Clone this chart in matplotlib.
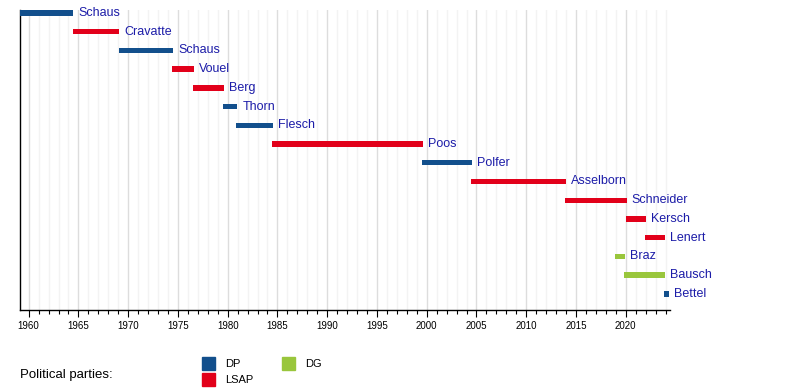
import matplotlib
matplotlib.use("Agg")
import matplotlib.pyplot as plt
from matplotlib.ticker import MultipleLocator
from matplotlib.patches import Rectangle

plt.rcParams['font.family'] = ['Liberation Sans', 'DejaVu Sans']

# office holders, top to bottom
names = ["Schaus", "Cravatte", "Schaus", "Vouel", "Berg", "Thorn", "Flesch", "Poos",
         "Polfer", "Asselborn", "Schneider", "Kersch", "Lenert", "Braz", "Bausch", "Bettel"]
parties = ["DP", "LSAP", "DP", "LSAP", "LSAP", "DP", "DP", "LSAP",
           "DP", "LSAP", "LSAP", "LSAP", "LSAP", "DG", "DG", "DP"]
starts = [1959.15, 1964.45, 1969.07, 1974.4, 1976.5, 1979.5, 1980.8, 1984.5,
          1999.55, 2004.5, 2013.9, 2020.0, 2021.9, 2018.9, 2019.8, 2023.8]
ends = [1964.45, 1969.07, 1974.5, 1976.6, 1979.6, 1980.96, 1984.6, 1999.65,
        2004.6, 2014.0, 2020.1, 2022.0, 2023.9, 2019.9, 2023.9, 2024.3]

party_names = ["DP", "LSAP", "DG"]
party_colors = {"DP": "#124f8c", "LSAP": "#e2001a", "DG": "#99c63c"}
text_color = "#1c1ca8"

fig = plt.figure(figsize=(8, 3.9), dpi=100)
ax = fig.add_axes([0.025, 0.205, 0.8125, 0.769])

rows = list(range(len(names)))
ax.barh(rows, [e - s for s, e in zip(starts, ends)], left=starts, height=0.29,
        color=[party_colors[p] for p in parties], zorder=3)

for r, name, e in zip(rows, names, ends):
    ax.annotate(name, (e, r), xytext=(3.6, 0), textcoords="offset points",
                va="center", ha="left", fontsize=9, color=text_color, zorder=4)

ax.set_xlim(1959.13, 2024.45)
ax.set_ylim(15.86, -0.144)

ax.xaxis.set_major_locator(MultipleLocator(5))
ax.xaxis.set_minor_locator(MultipleLocator(1))
ax.grid(which="major", axis="x", color="#dddddd", linewidth=1, zorder=0)
ax.grid(which="minor", axis="x", color="#f3f3f3", linewidth=1, zorder=0)
ax.set_yticks([])
ax.tick_params(axis="x", which="major", length=5, width=0.8, labelsize=7, pad=3)
ax.tick_params(axis="x", which="minor", length=3, width=0.8)
for s in ["top", "right"]:
    ax.spines[s].set_visible(False)
ax.spines["left"].set_linewidth(1)
ax.spines["bottom"].set_linewidth(1)

# legend
fig.text(20 / 800, 1 - 375 / 390, "Political parties:", fontsize=9.5, va="center", ha="left")
legend_pos = {"DP": (202, 357), "LSAP": (202, 373), "DG": (282, 357)}
for p in party_names:
    x, y = legend_pos[p]
    fig.patches.append(Rectangle((x / 800, 1 - (y + 13) / 390), 13 / 800, 13 / 390,
                                 transform=fig.transFigure, color=party_colors[p]))
    fig.text((x + 23) / 800, 1 - (y + 7) / 390, p, fontsize=8, va="center", ha="left")

fig.savefig("out.png", dpi=100)
